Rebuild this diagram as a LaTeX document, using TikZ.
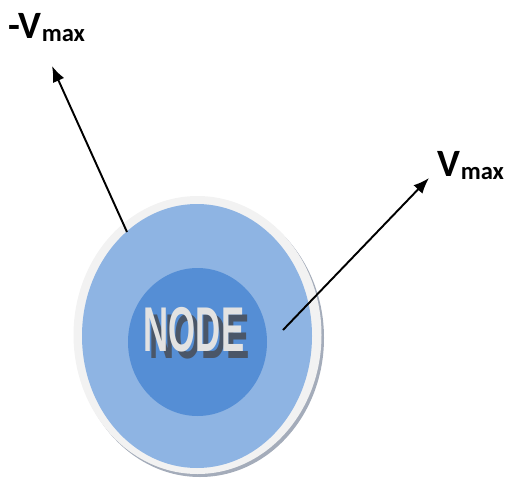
\documentclass[tikz,border=0pt]{standalone}
\usepackage{fontspec}
\usetikzlibrary{arrows.meta}
\setmainfont{Carlito}
\newfontfamily\nodefont{Liberation Sans}
\definecolor{rimgray}{HTML}{F2F2F2}
\definecolor{rimshade}{HTML}{A4ACBA}
\definecolor{outerblue}{HTML}{8EB4E3}
\definecolor{innerblue}{HTML}{558ED5}
\definecolor{letterdark}{HTML}{4A5668}
\definecolor{letterlight}{HTML}{E2E2E2}
\tikzset{
  vlabel/.style={font=\bfseries\fontsize{22}{26}\selectfont, inner sep=0pt},
  vector/.style={-{Latex[length=9pt,width=7pt]}, line width=1.1pt}
}
\newcommand{\subtext}[1]{{\fontsize{14}{16}\selectfont\raisebox{-0.25ex}{#1}}}
\newcommand{\nodeword}{\scalebox{0.55}[1]{\nodefont\bfseries\fontsize{36}{40}\selectfont NODE}}
\newcommand{\shadowword}{%
  \makebox[0pt][l]{\hspace{3pt}\raisebox{-4pt}{\textcolor{letterdark}{\nodeword}}}%
  \textcolor{letterlight}{\nodeword}}

\begin{document}
\begin{tikzpicture}[x=0.02cm, y=-0.02cm]
      \useasboundingbox (0,0) rectangle (507,480);

      % node disk
      \fill[rimshade] (200,338) circle [x radius = 124, y radius = 139];
      \fill[rimgray] (197.5,335) circle [x radius = 124, y radius = 139];
      \fill[outerblue] (197,336) circle [x radius = 115, y radius = 132];
      \fill[innerblue] (197.5,342) circle [x radius = 69.5, y radius = 74];

      \node[inner sep=0pt, anchor=center] (nodeword) at (194,333) {\shadowword};

      % velocity vectors
      \coordinate (lefttail) at (127,232);
      \coordinate (lefthead) at (52,66);
      \coordinate (righttail) at (283,330);
      \coordinate (righthead) at (429,178);
      \draw[vector] (lefttail) -- (lefthead);
      \draw[vector] (righttail) -- (righthead);

      \node[vlabel] (vmin) at (47,28) {-V\subtext{max}};
      \node[vlabel] (vmax) at (471,166) {V\subtext{max}};
\end{tikzpicture}
\end{document}
